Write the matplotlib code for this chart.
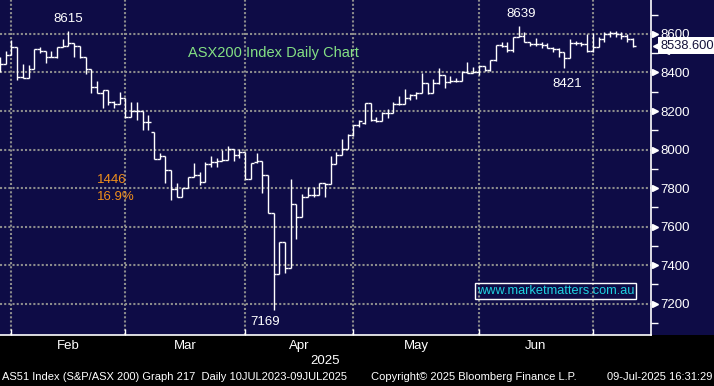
import matplotlib
matplotlib.use('Agg')
import matplotlib.pyplot as plt
import matplotlib.transforms as mtransforms
from matplotlib.patches import Rectangle
from matplotlib.ticker import FixedLocator
import numpy as np

# daily OHLC bars, 30 Jan 2025 .. 9 Jul 2025
opens = [8470, 8444, 8491, 8531, 8378, 8373, 8417, 8521, 8512, 8479,
         8479, 8531, 8538, 8552, 8538, 8479, 8417, 8323, 8295, 8309,
         8245, 8238, 8266, 8171, 8200, 8200, 8142, 8093, 7950, 7967,
         7893, 7794, 7752, 7799, 7859, 7868, 7833, 7924, 7934, 7941,
         7946, 8003, 7972, 7986, 7846, 7935, 7941, 7867, 7673, 7353,
         7519, 7384, 7716, 7652, 7752, 7766, 7762, 7825, 7820, 7924,
         7972, 8002, 8076, 8128, 8140, 8240, 8153, 8150, 8188, 8188,
         8235, 8235, 8266, 8283, 8295, 8344, 8295, 8344, 8387, 8349,
         8358, 8358, 8404, 8399, 8404, 8434, 8413, 8465, 8543, 8539,
         8517, 8583, 8591, 8560, 8547, 8547, 8543, 8526, 8521, 8505,
         8474, 8552, 8555, 8549, 8513, 8534, 8575, 8600, 8605, 8600,
         8590, 8575]
highs = [8481, 8512, 8569, 8531, 8443, 8439, 8521, 8531, 8512, 8512,
         8531, 8574, 8615, 8552, 8538, 8479, 8417, 8356, 8309, 8309,
         8252, 8301, 8269, 8249, 8249, 8200, 8180, 8093, 7981, 7967,
         7893, 7825, 7799, 7859, 7929, 7885, 7934, 7967, 7955, 7998,
         8019, 8003, 8003, 7986, 7929, 7981, 7941, 7867, 7673, 7519,
         7519, 7846, 7716, 7768, 7804, 7804, 7825, 7825, 7967, 7986,
         8053, 8079, 8128, 8154, 8240, 8240, 8171, 8194, 8209, 8245,
         8278, 8313, 8287, 8301, 8396, 8344, 8365, 8422, 8387, 8382,
         8370, 8408, 8453, 8427, 8439, 8434, 8465, 8543, 8560, 8560,
         8586, 8639, 8612, 8560, 8578, 8557, 8552, 8534, 8526, 8505,
         8572, 8565, 8560, 8600, 8603, 8586, 8612, 8617, 8617, 8612,
         8600, 8580]
lows = [8403, 8443, 8491, 8361, 8370, 8373, 8417, 8500, 8448, 8479,
        8474, 8531, 8538, 8482, 8474, 8391, 8292, 8292, 8218, 8231,
        8214, 8238, 8165, 8171, 8154, 8102, 8102, 7950, 7950, 7828,
        7738, 7752, 7752, 7799, 7859, 7816, 7833, 7911, 7908, 7941,
        7946, 7941, 7955, 7846, 7846, 7929, 7776, 7673, 7169, 7353,
        7361, 7384, 7536, 7652, 7752, 7755, 7762, 7752, 7820, 7924,
        7972, 8002, 8071, 8116, 8133, 8148, 8145, 8150, 8162, 8188,
        8232, 8235, 8257, 8261, 8295, 8289, 8292, 8340, 8318, 8344,
        8349, 8358, 8396, 8396, 8385, 8410, 8410, 8461, 8534, 8508,
        8508, 8583, 8560, 8538, 8538, 8526, 8526, 8508, 8479, 8421,
        8474, 8543, 8539, 8508, 8508, 8530, 8560, 8585, 8585, 8575,
        8560, 8530]
closes = [8444, 8491, 8531, 8378, 8373, 8417, 8521, 8512, 8479, 8479,
          8531, 8538, 8552, 8538, 8479, 8417, 8323, 8295, 8309, 8245,
          8238, 8266, 8171, 8200, 8200, 8142, 8142, 7950, 7967, 7893,
          7794, 7752, 7799, 7859, 7868, 7833, 7924, 7934, 7941, 7946,
          8003, 7972, 7986, 7846, 7929, 7941, 7867, 7673, 7353, 7519,
          7384, 7716, 7652, 7752, 7766, 7762, 7825, 7820, 7924, 7972,
          8002, 8076, 8128, 8148, 8240, 8153, 8148, 8188, 8188, 8235,
          8235, 8266, 8283, 8295, 8344, 8295, 8344, 8387, 8349, 8358,
          8358, 8404, 8399, 8404, 8434, 8413, 8465, 8543, 8539, 8517,
          8583, 8591, 8560, 8547, 8547, 8543, 8526, 8521, 8505, 8474,
          8552, 8555, 8549, 8513, 8534, 8575, 8600, 8605, 8600, 8590,
          8575, 8538.6]

month_names = ['Feb', 'Mar', 'Apr', 'May', 'Jun']
month_starts = [2, 22, 43, 62, 84, 104]   # bar index of first trading day
year_label = '2025'
y_ticks = [7200, 7400, 7600, 7800, 8000, 8200, 8400, 8600]
y_minor = [7100, 7300, 7500, 7700, 7900, 8100, 8300, 8500, 8700]

hi_idx, lo_idx, hi2_idx, lo2_idx = 12, 48, 91, 99
drop_pct = '16.9%'

NAVY = '#0e0c46'
plt.rcParams['font.family'] = ['Liberation Sans', 'DejaVu Sans']

W, H = 714, 386
fig = plt.figure(figsize=(W / 100, H / 100), dpi=100, facecolor='black')
ax_bottom = 335
fig.patches.append(Rectangle((0, 1 - ax_bottom / H), 1, ax_bottom / H,
                             transform=fig.transFigure, facecolor=NAVY,
                             edgecolor='none', zorder=-10))
ax = fig.add_axes([0, 1 - ax_bottom / H, 651 / W, ax_bottom / H])
ax.set_facecolor(NAVY)

x = np.arange(len(closes))
ax.vlines(x, lows, highs, color='white', lw=1.0, zorder=3)
ax.hlines(opens, x - 0.5, x, color='white', lw=1.0, zorder=3)
ax.hlines(closes, x, x + 0.5, color='white', lw=1.0, zorder=3)

ax.set_xlim(0.0, 114.2)
ax.set_ylim(7038, 8776)

for s in ['left', 'top']:
    ax.spines[s].set_visible(False)
for s in ['right', 'bottom']:
    ax.spines[s].set_color('white')
    ax.spines[s].set_linewidth(1.2)

ax.set_axisbelow(True)
ax.set_xticks(month_starts)
ax.set_xticklabels([])
ax.tick_params(axis='x', direction='in', length=4, color='white', width=1)
ax.yaxis.tick_right()
ax.set_yticks(y_ticks)
ax.set_yticklabels([str(v) for v in y_ticks])
ax.yaxis.set_minor_locator(FixedLocator(y_minor))
ax.tick_params(axis='y', which='major', length=0, pad=7, labelsize=9.5,
               labelcolor='white')
ax.tick_params(axis='y', which='minor', length=5, width=1, color='white',
               direction='out')
ax.grid(True, which='major', color='#8c8c8c', lw=1.5, ls=(0, (1, 1)))

# triangle markers on the price axis
tri = ax.get_yaxis_transform() + mtransforms.ScaledTranslation(0.035, 0, fig.dpi_scale_trans)
ax.plot([1.0] * len(y_ticks), y_ticks, ls='none', marker='>', ms=5,
        color='white', transform=tri, clip_on=False, zorder=4)

# last price flag
ptr = ax.get_yaxis_transform() + mtransforms.ScaledTranslation(0.10, 0, fig.dpi_scale_trans)
ax.plot([1.0], [closes[-1]], ls='none', marker='<', ms=12, color='white',
        transform=ptr, clip_on=False, zorder=6)
lbl = ax.get_yaxis_transform() + mtransforms.ScaledTranslation(0.095, 0, fig.dpi_scale_trans)
ax.text(1.0, closes[-1], f'{closes[-1]:.3f}', transform=lbl, ha='left',
        va='center', fontsize=9.3, color='#14123a', clip_on=False, zorder=7,
        bbox=dict(boxstyle='square,pad=0.2', facecolor='white', edgecolor='none'))

# high / low labels
ax.annotate(f'{highs[hi_idx]:.0f}', (hi_idx, highs[hi_idx]), xytext=(0, 9),
            textcoords='offset points', ha='center', va='center',
            color='white', fontsize=9.5)
ax.annotate(f'{highs[hi2_idx]:.0f}', (hi2_idx, highs[hi2_idx]), xytext=(2, 9),
            textcoords='offset points', ha='center', va='center',
            color='white', fontsize=9.5)
ax.annotate(f'{lows[lo2_idx]:.0f}', (lo2_idx, lows[lo2_idx]), xytext=(2, -11),
            textcoords='offset points', ha='center', va='center',
            color='white', fontsize=9.5)
ax.annotate(f'{lows[lo_idx]:.0f}', (lo_idx, lows[lo_idx]), xytext=(-6, -9),
            textcoords='offset points', ha='center', va='center',
            color='white', fontsize=9.5)

drop = highs[hi_idx] - lows[lo_idx]
ax.text(0.149, 0.4627, f'{drop:.0f}', transform=ax.transAxes, ha='left',
        va='center', color='#f0901c', fontsize=9.5)
ax.text(0.149, 0.412, drop_pct, transform=ax.transAxes, ha='left',
        va='center', color='#f0901c', fontsize=9.5)

ax.text(0.289, 0.842, 'ASX200 Index Daily Chart', transform=ax.transAxes,
        ha='left', va='center', color='#84e084', fontsize=10.5)
ax.text(0.8533, 0.1313, 'www.marketmatters.com.au', transform=ax.transAxes,
        ha='center', va='center', color='#1fd2e0', fontsize=9.2,
        bbox=dict(boxstyle='square,pad=0.15', facecolor='none',
                  edgecolor='white', lw=1))

# month labels under the axis
mtr = mtransforms.blended_transform_factory(ax.transData, fig.transFigure)
for i, name in enumerate(month_names):
    mid = (month_starts[i] + month_starts[i + 1]) / 2
    ax.text(mid, 1 - 346 / H, name, transform=mtr, ha='center', va='center',
            color='white', fontsize=9.5, clip_on=False)
fig.text(325 / W, 1 - 361 / H, year_label, ha='center', va='center',
         color='white', fontsize=9.5)

fig.text(2 / W, 1 - 377 / H,
         'AS51 Index (S&P/ASX 200) Graph 217  Daily 10JUL2023-09JUL2025',
         ha='left', va='center', color='white', fontsize=8)
fig.text(371 / W, 1 - 377 / H, 'Copyright\u00a9 2025 Bloomberg Finance L.P.',
         ha='left', va='center', color='white', fontsize=8)
fig.text(712 / W, 1 - 377 / H, '09-Jul-2025 16:31:29',
         ha='right', va='center', color='white', fontsize=8)

plt.savefig('out.png', dpi=100, facecolor='black')
plt.close()
